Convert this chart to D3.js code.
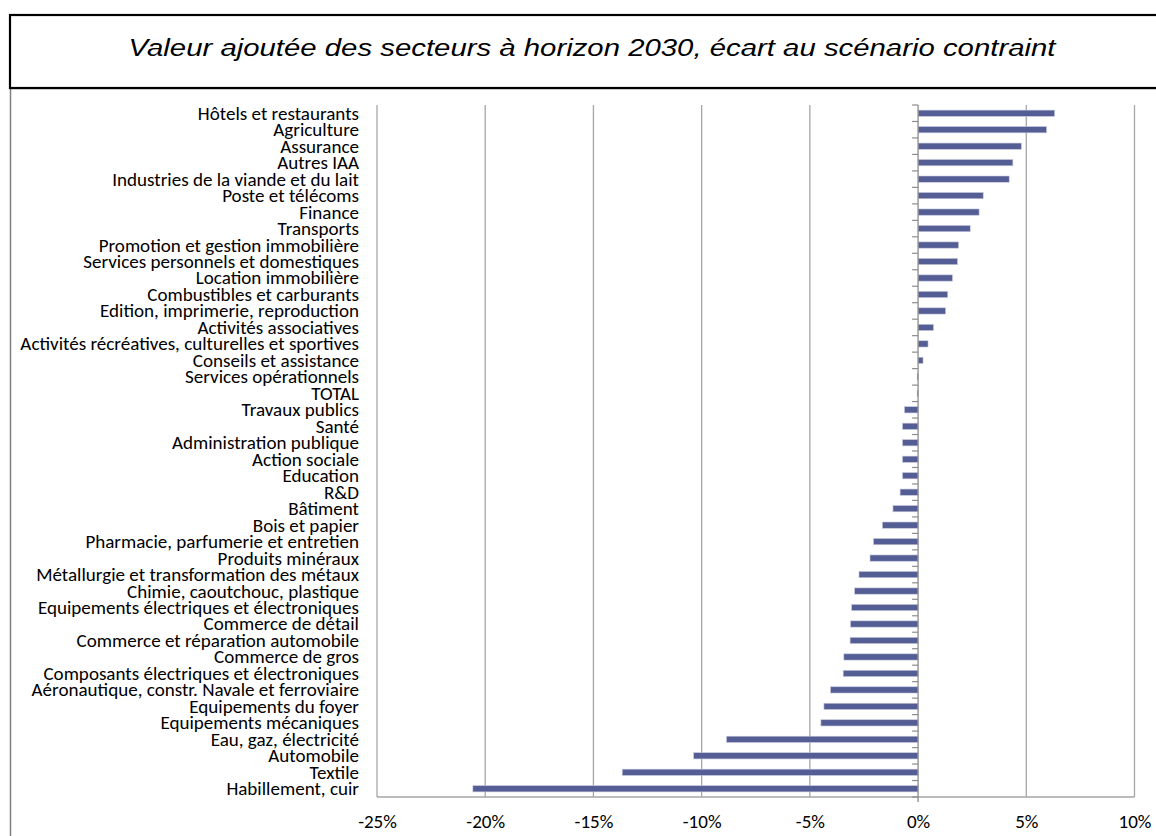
<!DOCTYPE html>
<html>
<head>
<meta charset="utf-8">
<script src="https://cdn.jsdelivr.net/npm/d3@7"></script>
<style>
  html, body { margin: 0; padding: 0; background: #fff; }
  svg { display: block; }
</style>
</head>
<body>
<svg id="chart" width="1156" height="836"></svg>
<script>
// Secteurs, du plus favorable au plus défavorable
const sectors = [
  "Hôtels et restaurants",
  "Agriculture",
  "Assurance",
  "Autres IAA",
  "Industries de la viande et du lait",
  "Poste et télécoms",
  "Finance",
  "Transports",
  "Promotion et gestion immobilière",
  "Services personnels et domestiques",
  "Location immobilière",
  "Combustibles et carburants",
  "Edition, imprimerie, reproduction",
  "Activités associatives",
  "Activités récréatives, culturelles et sportives",
  "Conseils et assistance",
  "Services opérationnels",
  "TOTAL",
  "Travaux publics",
  "Santé",
  "Administration publique",
  "Action sociale",
  "Education",
  "R&D",
  "Bâtiment",
  "Bois et papier",
  "Pharmacie, parfumerie et entretien",
  "Produits minéraux",
  "Métallurgie et transformation des métaux",
  "Chimie, caoutchouc, plastique",
  "Equipements électriques et électroniques",
  "Commerce de détail",
  "Commerce et réparation automobile",
  "Commerce de gros",
  "Composants électriques et électroniques",
  "Aéronautique, constr. Navale et ferroviaire",
  "Equipements du foyer",
  "Equipements mécaniques",
  "Eau, gaz, électricité",
  "Automobile",
  "Textile",
  "Habillement, cuir"
];

// Écart de valeur ajoutée (en %)
const gaps = [
  6.31, 5.94, 4.77, 4.38, 4.21, 3.01, 2.82, 2.41, 1.87, 1.82,
  1.59, 1.37, 1.27, 0.71, 0.46, 0.23, -0.04, -0.04, -0.63, -0.72,
  -0.72, -0.72, -0.72, -0.83, -1.16, -1.65, -2.06, -2.22, -2.73, -2.93,
  -3.07, -3.12, -3.14, -3.43, -3.46, -4.05, -4.35, -4.49, -8.85, -10.37,
  -13.67, -20.57
];

const xTicks = [-25, -20, -15, -10, -5, 0, 5, 10];
const title = "Valeur ajoutée des secteurs à horizon 2030, écart au scénario contraint";

const svg = d3.select("#chart");
const labelFont = "Carlito, 'Open Sans', Lato, sans-serif";

// Cadres : boîte de titre et zone du graphique
svg.append("rect")
  .attr("x", 10.5).attr("y", 88.5).attr("width", 1200).attr("height", 800)
  .attr("fill", "none").attr("stroke", "#7f7f7f").attr("stroke-width", 1.5);
svg.append("rect")
  .attr("x", 10).attr("y", 15).attr("width", 1200).attr("height", 73)
  .attr("fill", "#fff").attr("stroke", "#000").attr("stroke-width", 2.2);

svg.append("text")
  .attr("x", 592).attr("y", 56)
  .attr("text-anchor", "middle")
  .attr("font-family", "'Liberation Sans Narrow', 'Arial Narrow', 'Liberation Sans', Arial, sans-serif")
  .attr("font-style", "italic")
  .attr("font-size", 24.5)
  .attr("fill", "#000")
  .attr("textLength", 927)
  .attr("lengthAdjust", "spacingAndGlyphs")
  .text(title);

// Zone de tracé
const plot = { left: 377, right: 1134.5, top: 105, bottom: 797 };

const x = d3.scaleLinear()
  .domain([d3.min(xTicks), d3.max(xTicks)])
  .range([plot.left, plot.right]);

const y = d3.scaleBand()
  .domain(sectors)
  .range([plot.top, plot.bottom])
  .paddingInner(0.62)
  .paddingOuter(0.31);

// Taille de police ajustée pour que le libellé le plus long tienne dans la colonne (x 20 → 359)
const probe = svg.append("text")
  .attr("font-family", labelFont).attr("font-size", 20)
  .text(d3.greatest(sectors, s => s.length));
const labelSize = Math.min(19.5, 20 * 339 / probe.node().getComputedTextLength());
probe.remove();

// Quadrillage vertical
svg.append("g")
  .selectAll("line")
  .data(xTicks.filter(t => t !== 0))
  .join("line")
  .attr("x1", d => x(d)).attr("x2", d => x(d))
  .attr("y1", plot.top).attr("y2", plot.bottom)
  .attr("stroke", "#a6a6a6").attr("stroke-width", 1.3);

// Axe horizontal (bas)
svg.append("line")
  .attr("x1", plot.left).attr("x2", plot.right)
  .attr("y1", plot.bottom).attr("y2", plot.bottom)
  .attr("stroke", "#a6a6a6").attr("stroke-width", 1.3);

const xAxis = d3.axisBottom(x)
  .tickValues(xTicks)
  .tickFormat(d => d + "%")
  .tickSize(0)
  .tickPadding(17);
const gx = svg.append("g")
  .attr("transform", `translate(0,${plot.bottom})`)
  .call(xAxis);
gx.select(".domain").remove();
gx.selectAll("text")
  .attr("font-family", labelFont)
  .attr("font-size", labelSize)
  .attr("fill", "#000");

// Barres
svg.append("g")
  .selectAll("rect")
  .data(sectors.map((s, i) => ({ s, v: gaps[i] })))
  .join("rect")
  .attr("x", d => x(Math.min(0, d.v)))
  .attr("y", d => y(d.s))
  .attr("width", d => Math.max(1, Math.abs(x(d.v) - x(0))))
  .attr("height", y.bandwidth())
  .attr("fill", "#555e94")
  .attr("stroke", "#c5c9e0")
  .attr("stroke-width", 0.6);

// Axe des catégories à 0 %, avec graduations entre les secteurs
const step = y.step();
const boundaries = d3.range(sectors.length + 1).map(i => plot.top + i * step);
svg.append("g")
  .selectAll("line")
  .data(boundaries)
  .join("line")
  .attr("x1", x(0) - 6).attr("x2", x(0))
  .attr("y1", d => d).attr("y2", d => d)
  .attr("stroke", "#8c8c8c").attr("stroke-width", 1.2);
svg.append("line")
  .attr("x1", x(0)).attr("x2", x(0))
  .attr("y1", plot.top).attr("y2", plot.bottom + 5)
  .attr("stroke", "#8c8c8c").attr("stroke-width", 1.3);

// Libellés des secteurs
svg.append("g")
  .selectAll("text")
  .data(sectors)
  .join("text")
  .attr("x", 359)
  .attr("y", d => y(d) + y.bandwidth() / 2)
  .attr("dy", "0.34em")
  .attr("text-anchor", "end")
  .attr("font-family", labelFont)
  .attr("font-size", labelSize)
  .attr("fill", "#000")
  .text(d => d);
</script>
</body>
</html>
